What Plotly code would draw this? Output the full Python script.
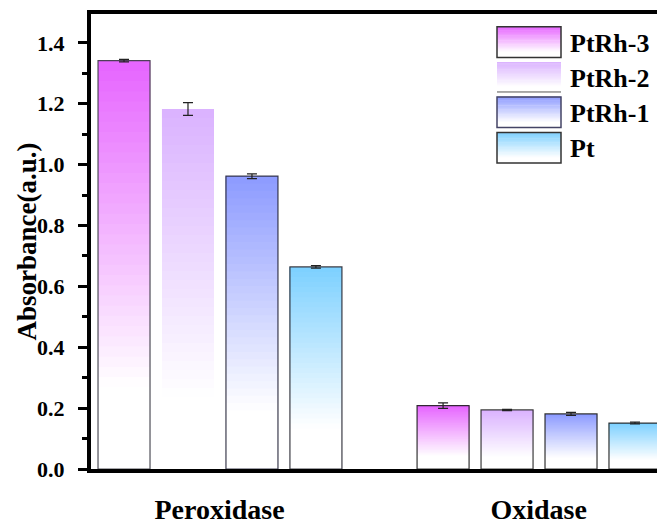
import plotly.graph_objects as go

# ---------------- data ----------------
categories = ["Peroxidase", "Oxidase"]
series_names = ["PtRh-3", "PtRh-2", "PtRh-1", "Pt"]
ptrh3_vals = [1.342, 0.208]
ptrh2_vals = [1.183, 0.194]
ptrh1_vals = [0.962, 0.181]
pt_vals = [0.664, 0.151]
ptrh3_err = [0.004, 0.009]
ptrh2_err = [0.021, 0.002]
ptrh1_err = [0.008, 0.005]
pt_err = [0.004, 0.003]
y_tick_vals = [0.0, 0.2, 0.4, 0.6, 0.8, 1.0, 1.2, 1.4]

values = [ptrh3_vals, ptrh2_vals, ptrh1_vals, pt_vals]
errors = [ptrh3_err, ptrh2_err, ptrh1_err, pt_err]

# ---------------- style ----------------
W, H = 657, 525
ML, MR, MT, MB = 91, 0, 14, 50
top_colors = [(230, 100, 255), (218, 178, 255), (140, 154, 255), (124, 208, 255)]
edge_colors = [
    ["rgba(60,60,70,0.9)", "rgba(30,30,30,0.9)"],
    ["rgba(120,120,120,0.0)", "rgba(40,40,40,0.9)"],
    ["rgba(40,40,60,0.9)", "rgba(30,30,30,0.9)"],
    ["rgba(40,40,50,0.9)", "rgba(30,30,30,0.9)"],
]
bar_w = 0.163
first_off = -0.381
pitch = 0.2005
N_SEG = 40
WHITE_FRAC = 0.2
FONT = "Times New Roman, Liberation Serif, serif"


def grad_color(c, frac):
    t = (frac - WHITE_FRAC) / (1 - WHITE_FRAC)
    t = max(0.0, min(1.0, t))
    r = round(255 + (c[0] - 255) * t)
    g = round(255 + (c[1] - 255) * t)
    b = round(255 + (c[2] - 255) * t)
    return f"rgb({r},{g},{b})"


fig = go.Figure()

for i, (name, vals, errs) in enumerate(zip(series_names, values, errors)):
    off = first_off + i * pitch
    # gradient fill built from stacked overlay segments
    for k in range(N_SEG):
        frac_lo = k / N_SEG
        frac_mid = (k + 0.5) / N_SEG
        fig.add_trace(go.Bar(
            x=categories,
            y=[v * (1 - frac_lo) for v in vals],
            base=[v * frac_lo for v in vals],
            offset=off, width=bar_w,
            marker=dict(color=grad_color(top_colors[i], frac_mid), line=dict(width=0)),
            showlegend=False, hoverinfo="skip",
        ))
    # outline + error bars
    fig.add_trace(go.Bar(
        x=categories, y=vals, name=name,
        offset=off, width=bar_w,
        marker=dict(color="rgba(0,0,0,0)", line=dict(color=edge_colors[i], width=1.2)),
        error_y=dict(type="data", array=errs, visible=True, color="#222222",
                     thickness=1.2, width=5),
        showlegend=False,
    ))

# ---------------- custom legend ----------------
pw = W - ML - MR
ph = H - MT - MB


def px_x(x):
    return (x - ML) / pw


def px_y(y):
    return (H - MB - y) / ph


shapes = []
annotations = []
swatch_y = [(27, 58), (63, 93), (98, 129), (134, 165)]
legend_border = ["#333333", None, "#444466", "#333333"]
sx0, sx1 = 497, 561
NS = 24
for i, name in enumerate(series_names):
    y0, y1 = swatch_y[i]
    for k in range(NS):
        ya = y0 + (y1 - y0) * k / NS
        yb = y0 + (y1 - y0) * (k + 1) / NS
        frac = 1 - (k + 0.5) / NS  # top is full colour
        col = grad_color(top_colors[i], 0.05 + 0.95 * frac)
        shapes.append(dict(type="rect", xref="paper", yref="paper",
                           x0=px_x(sx0), x1=px_x(sx1), y0=px_y(yb), y1=px_y(ya) + 0.001,
                           fillcolor=col, line=dict(width=0), layer="above"))
    if legend_border[i]:
        shapes.append(dict(type="rect", xref="paper", yref="paper",
                           x0=px_x(sx0), x1=px_x(sx1), y0=px_y(y1), y1=px_y(y0),
                           fillcolor="rgba(0,0,0,0)",
                           line=dict(color=legend_border[i], width=1.5), layer="above"))
    else:
        shapes.append(dict(type="line", xref="paper", yref="paper",
                           x0=px_x(sx0), x1=px_x(sx1), y0=px_y(y1), y1=px_y(y1),
                           line=dict(color="#555555", width=1), layer="above"))
    annotations.append(dict(text=name, xref="paper", yref="paper",
                            x=px_x(568), y=px_y((y0 + y1) / 2 + 1),
                            xanchor="left", yanchor="middle", showarrow=False,
                            font=dict(family=FONT, size=26, color="black", weight="bold")))

# y-axis title
annotations.append(dict(text="Absorbance(a.u.)", xref="paper", yref="paper",
                        x=px_x(26), y=0.5, textangle=-90,
                        xanchor="center", yanchor="middle", showarrow=False,
                        font=dict(family=FONT, size=27, color="black", weight="bold")))

fig.update_layout(
    width=W, height=H,
    margin=dict(l=ML, r=MR, t=MT, b=MB, pad=0),
    paper_bgcolor="white", plot_bgcolor="white",
    barmode="overlay",
    showlegend=False,
    shapes=shapes,
    annotations=annotations,
    xaxis=dict(
        type="category", categoryorder="array", categoryarray=categories,
        range=[-0.403, 1.371],
        showline=True, linecolor="black", linewidth=4, mirror=True,
        ticks="", showgrid=False, zeroline=False,
        tickfont=dict(family=FONT, size=28, color="black", weight="bold"),
        ticklabelstandoff=12,
    ),
    yaxis=dict(
        range=[0, 1.495],
        tickvals=y_tick_vals, tickformat=".1f",
        ticks="outside", ticklen=9, tickwidth=3, tickcolor="black",
        minor=dict(dtick=0.1, ticks="outside", ticklen=5, tickwidth=3, tickcolor="black"),
        showline=True, linecolor="black", linewidth=4,
        showgrid=False, zeroline=False,
        tickfont=dict(family=FONT, size=22, color="black", weight="bold"),
        ticklabelstandoff=9,
    ),
)

fig.write_html("out.html")
